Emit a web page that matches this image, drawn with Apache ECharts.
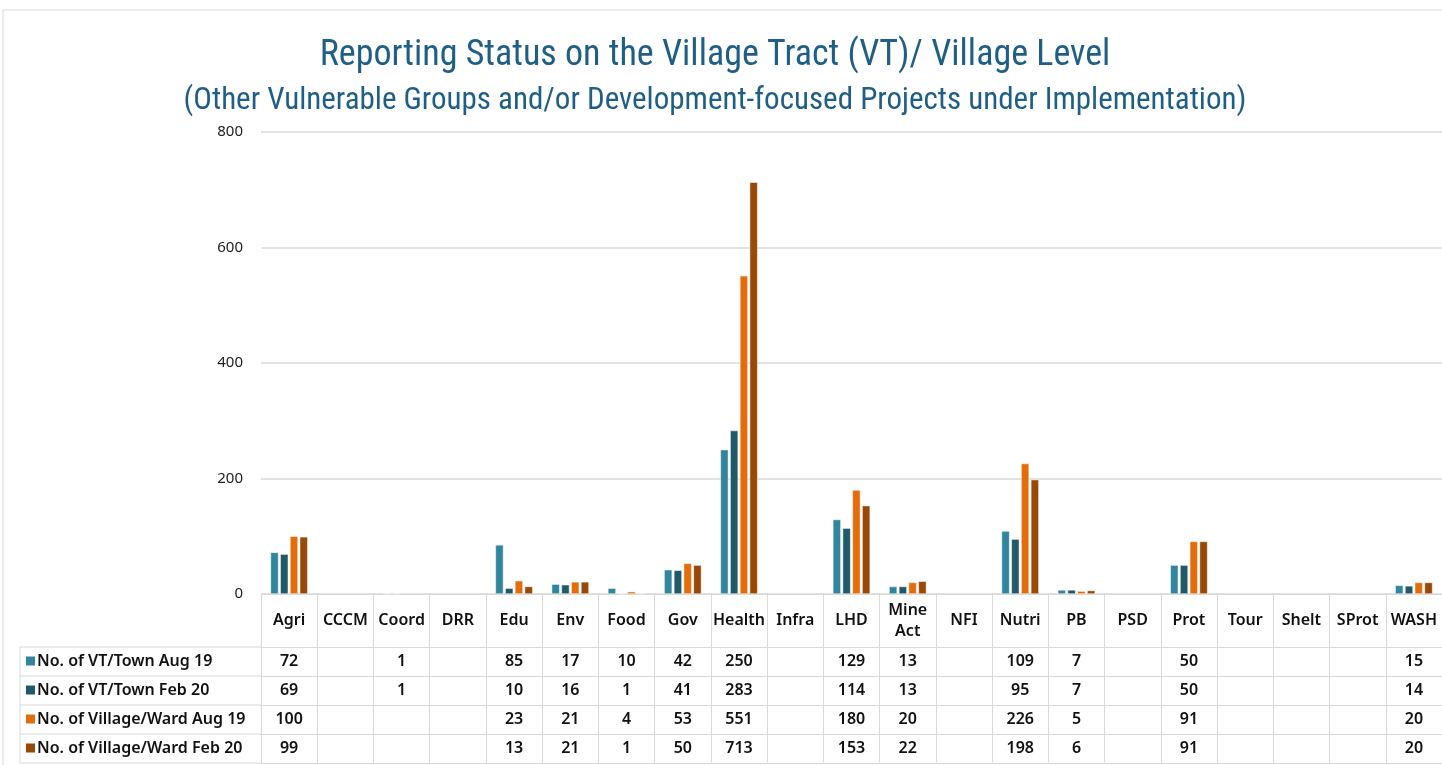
<!DOCTYPE html>
<html>
<head>
<meta charset="utf-8">
<script src="https://cdn.jsdelivr.net/npm/echarts@6/dist/echarts.min.js"></script>
<style>
  html, body { margin: 0; padding: 0; background: #fff; }
  #main { width: 1442px; height: 765px; }
</style>
</head>
<body>
<div id="main"></div>
<script>
var categories = ['Agri', 'CCCM', 'Coord', 'DRR', 'Edu', 'Env', 'Food', 'Gov', 'Health', 'Infra', 'LHD',
  'Mine\nAct', 'NFI', 'Nutri', 'PB', 'PSD', 'Prot', 'Tour', 'Shelt', 'SProt', 'WASH'];

var seriesNames = ['No. of VT/Town Aug 19', 'No. of VT/Town Feb 20', 'No. of Village/Ward Aug 19', 'No. of Village/Ward Feb 20'];

var vtAug19 = [72, null, 1, null, 85, 17, 10, 42, 250, null, 129, 13, null, 109, 7, null, 50, null, null, null, 15];
var vtFeb20 = [69, null, 1, null, 10, 16, 1, 41, 283, null, 114, 13, null, 95, 7, null, 50, null, null, null, 14];
var villageAug19 = [100, null, null, null, 23, 21, 4, 53, 551, null, 180, 20, null, 226, 5, null, 91, null, null, null, 20];
var villageFeb20 = [99, null, null, null, 13, 21, 1, 50, 713, null, 153, 22, null, 198, 6, null, 91, null, null, null, 20];

var colors = ['#31859c', '#215968', '#e46c0a', '#984807'];
var rows = [vtAug19, vtFeb20, villageAug19, villageFeb20];

var titleFont = "'Liberation Sans Narrow', 'Roboto Condensed', 'Noto Sans', sans-serif";
var font = "'Noto Sans', 'Open Sans', sans-serif";
var lineColor = '#d9d9d9';

var chart = echarts.init(document.getElementById('main'));

// table geometry
var gridLeft = 261, axisY = 594, headH = 53, rowH = 29, tableLeft = 20;

var cellText = { fontFamily: font, fontSize: 16, fontWeight: 600, color: '#111' };

var xAxes = [{
  type: 'category',
  data: categories,
  axisLine: { lineStyle: { color: lineColor } },
  axisTick: { show: true, interval: 0, length: headH, lineStyle: { color: lineColor } },
  axisLabel: Object.assign({ interval: 0, margin: headH / 2, verticalAlign: 'middle', lineHeight: 21 }, cellText)
}];
rows.forEach(function (row, k) {
  xAxes.push({
    type: 'category',
    data: categories,
    position: 'bottom',
    offset: headH + rowH * k,
    axisLine: { show: true, lineStyle: { color: lineColor } },
    axisTick: { show: true, interval: 0, length: rowH, lineStyle: { color: lineColor } },
    axisLabel: Object.assign({
      interval: 0, margin: rowH / 2, verticalAlign: 'middle',
      formatter: function (v, i) { return row[i] == null ? '' : String(row[i]); }
    }, cellText)
  });
});
xAxes.push({
  type: 'category',
  data: categories,
  position: 'bottom',
  offset: headH + rowH * 4,
  axisLine: { show: true, lineStyle: { color: lineColor } },
  axisTick: { show: false },
  axisLabel: { show: false }
});

// row header cells on the left of the table
var graphics = [{
  type: 'rect', shape: { x: 3, y: 10, width: 1450, height: 760 },
  style: { fill: 'none', stroke: '#d9d9d9', lineWidth: 1 }, silent: true
}, {
  type: 'line', shape: { x1: tableLeft, y1: axisY + headH, x2: tableLeft, y2: axisY + headH + rowH * 4 },
  style: { stroke: lineColor, lineWidth: 1 }
}];
for (var k = 0; k <= 4; k++) {
  var y = axisY + headH + rowH * k;
  graphics.push({
    type: 'line', shape: { x1: tableLeft, y1: y, x2: gridLeft, y2: y },
    style: { stroke: lineColor, lineWidth: 1 }
  });
}
seriesNames.forEach(function (name, k) {
  var cy = axisY + headH + rowH * k + rowH / 2;
  graphics.push({
    type: 'rect', shape: { x: 26, y: cy - 5, width: 9, height: 9 },
    style: { fill: colors[k] }
  });
  graphics.push({
    type: 'text', x: 37, y: cy,
    style: { text: name, fontFamily: font, fontSize: 16, fontWeight: 600, fill: '#111', verticalAlign: 'middle' }
  });
});

var option = {
  backgroundColor: '#fff',
  color: colors,
  title: {
    text: 'Reporting Status on the Village Tract (VT)/ Village Level',
    subtext: '(Other Vulnerable Groups and/or Development-focused Projects under Implementation)',
    left: 710,
    textAlign: 'center',
    top: 33,
    itemGap: 12,
    textStyle: { fontFamily: titleFont, fontSize: 36, fontWeight: 'normal', color: '#1f5f85' },
    subtextStyle: { fontFamily: titleFont, fontSize: 31, color: '#1f5f85' }
  },
  grid: {
    left: gridLeft,
    right: -1,
    top: 132,
    bottom: 765 - axisY
  },
  xAxis: xAxes,
  yAxis: {
    type: 'value',
    min: 0,
    max: 800,
    interval: 200,
    axisLine: { show: false },
    axisTick: { show: false },
    axisLabel: { fontFamily: font, fontSize: 15, color: '#222', margin: 18 },
    splitLine: { lineStyle: { color: lineColor, width: 1.5 } }
  },
  series: rows.map(function (row, k) {
    return {
      name: seriesNames[k],
      type: 'bar',
      data: row,
      barWidth: 8,
      barGap: '22%',
      itemStyle: { color: colors[k], borderColor: '#fff', borderWidth: 0.5 }
    };
  }),
  graphic: graphics
};

chart.setOption(option);
</script>
</body>
</html>
